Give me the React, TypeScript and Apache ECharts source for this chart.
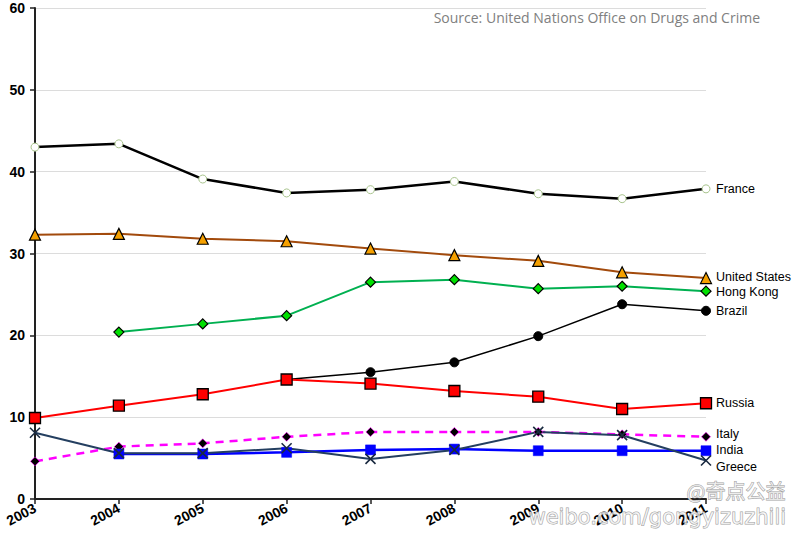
import React, { useEffect, useRef } from "react";
import * as echarts from "echarts";

const years = ["2003", "2004", "2005", "2006", "2007", "2008", "2009", "2010", "2011"];
const france = [43.0, 43.4, 39.1, 37.4, 37.8, 38.8, 37.3, 36.7, 37.9];
const unitedStates = [32.3, 32.4, 31.8, 31.5, 30.6, 29.8, 29.1, 27.7, 27.0];
const hongKong = [null, 20.4, 21.4, 22.4, 26.5, 26.8, 25.7, 26.0, 25.4];
const brazil = [null, null, null, 14.6, 15.5, 16.7, 19.9, 23.8, 23.0];
const russia = [9.9, 11.4, 12.8, 14.6, 14.1, 13.2, 12.5, 11.0, 11.7];
const italy = [4.6, 6.4, 6.8, 7.6, 8.2, 8.2, 8.2, 7.9, 7.6];
const india = [null, 5.5, 5.5, 5.7, 6.0, 6.1, 5.9, 5.9, 5.9];
const greece = [8.1, 5.6, 5.6, 6.2, 4.9, 6.0, 8.2, 7.8, 4.7];
const yTicks = { min: 0, max: 60, interval: 10 };

const X_PATH = "path://M0,0L10,10M10,0L0,10";
const FONT = "Liberation Sans";

function mk(
  name: string,
  data: (number | null)[],
  color: string,
  width: number,
  symbol: string,
  size: number,
  fill: string,
  border: string,
  borderWidth: number,
  labelDy: number,
  dashed = false
) {
  return {
    name,
    type: "line",
    data,
    symbol,
    symbolSize: size,
    showAllSymbol: true,
    connectNulls: false,
    lineStyle: { color, width, type: dashed ? [8, 6] : "solid" },
    itemStyle: { color: fill, borderColor: border, borderWidth },
    z: 2,
    endLabel: {
      show: true,
      formatter: name,
      color: "#000",
      fontFamily: FONT,
      fontSize: 12.5,
      distance: 10,
      offset: [0, labelDy],
    },
  };
}

export default function App() {
  const ref = useRef<HTMLDivElement>(null);
  useEffect(() => {
    const chart = echarts.init(ref.current!, null, { renderer: "svg" });
    chart.setOption({
      animation: false,
      backgroundColor: "#fff",
      grid: { left: 35, right: 94, top: 8, bottom: 38, containLabel: false },
      xAxis: {
        type: "category",
        data: years,
        boundaryGap: false,
        axisLine: { lineStyle: { color: "#222", width: 2 } },
        axisTick: { show: true, length: 5, lineStyle: { color: "#222", width: 1.5 } },
        axisLabel: {
          rotate: 28,
          color: "#000",
          fontWeight: "bold",
          fontSize: 14,
          fontFamily: FONT,
          margin: 8,
        },
        splitLine: { show: false },
      },
      yAxis: {
        type: "value",
        min: yTicks.min,
        max: yTicks.max,
        interval: yTicks.interval,
        axisLine: { show: true, lineStyle: { color: "#222", width: 2 } },
        axisTick: { show: true, length: 5, lineStyle: { color: "#222", width: 1.5 } },
        axisLabel: {
          color: "#000",
          fontWeight: "bold",
          fontSize: 14,
          fontFamily: FONT,
          margin: 10,
        },
        splitLine: { show: true, lineStyle: { color: "#dcdcdc", width: 1 } },
      },
      series: [
        mk("France", france, "#000", 2.5, "circle", 8, "#fff", "#a8c48c", 1, 0),
        mk("United States", unitedStates, "#a24a0c", 2, "triangle", 11, "#f5a000", "#000", 1.2, -1),
        mk("Hong Kong", hongKong, "#00b050", 2, "diamond", 10, "#00e000", "#000", 1.2, 1),
        mk("Brazil", brazil, "#000", 1.5, "circle", 9, "#000", "#000", 1, 0),
        mk("Russia", russia, "#ff0000", 2, "rect", 11, "#ff0000", "#000", 1.3, 0),
        mk("Italy", italy, "#ff00ff", 2.5, "diamond", 9, "#000", "#ff00ff", 0.6, -3, true),
        mk("India", india, "#0000ff", 2.5, "rect", 10, "#0000ff", "#0000ff", 0.5, -1),
        mk("Greece", greece, "#243f60", 2, X_PATH, 10, "none", "#1a2a40", 1.6, 6),
      ],
      graphic: [
        {
          type: "text",
          right: 40,
          top: 10,
          style: {
            text: "Source: United Nations Office on Drugs and Crime",
            fill: "#808080",
            fontSize: 14,
            fontFamily: "Open Sans",
          },
        },
        {
          type: "text",
          left: 686,
          top: 480,
          z: 100,
          style: {
            text: "@奇点公益",
            fill: "rgba(255,255,255,0.7)",
            stroke: "rgba(140,140,140,0.85)",
            lineWidth: 1,
            fontSize: 20,
            fontFamily: "Noto Sans CJK SC",
          },
        },
        {
          type: "text",
          left: 528,
          top: 506,
          z: 100,
          style: {
            text: "weibo.com/gongyizuzhili",
            fill: "rgba(255,255,255,0.7)",
            stroke: "rgba(140,140,140,0.85)",
            lineWidth: 1,
            fontSize: 21,
            fontFamily: "DejaVu Sans",
          },
        },
      ],
    });
    return () => chart.dispose();
  }, []);
  return (
    <div
      ref={ref}
      style={{ position: "absolute", left: 0, top: 0, width: 800, height: 537 }}
    />
  );
}
